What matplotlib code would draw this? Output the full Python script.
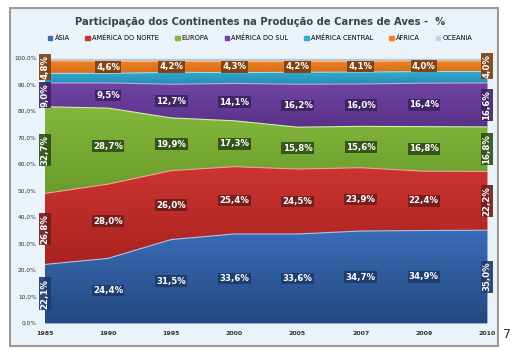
import matplotlib
matplotlib.use('Agg')
import matplotlib.pyplot as plt
from matplotlib.patches import FancyBboxPatch
from matplotlib.colors import LinearSegmentedColormap
import numpy as np

# Dados do gráfico
anos = ["1985", "1990", "1995", "2000", "2005", "2007", "2009", "2010"]
asia = [22.1, 24.4, 31.5, 33.6, 33.6, 34.7, 34.9, 35.0]
america_norte = [26.8, 28.0, 26.0, 25.4, 24.5, 23.9, 22.4, 22.2]
europa = [32.7, 28.7, 19.9, 17.3, 15.8, 15.6, 16.8, 16.8]
america_sul = [9.0, 9.5, 12.7, 14.1, 16.2, 16.0, 16.4, 16.6]
america_central = [3.6, 3.6, 4.5, 4.1, 4.5, 4.5, 4.4, 4.3]
africa = [4.8, 4.6, 4.2, 4.3, 4.2, 4.1, 4.0, 4.0]
oceania = [1.0, 1.2, 1.2, 1.2, 1.2, 1.2, 1.1, 1.1]

# nome, valores, cor topo, cor base, borda, cor do rótulo
series = [
    ("ÁSIA", asia, "#3a6cb8", "#24487f", "#a9c4e8", "#1d3a6b"),
    ("AMÉRICA DO NORTE", america_norte, "#cc3430", "#a92320", "#f0a0a0", "#6e1d1a"),
    ("EUROPA", europa, "#84b83c", "#6a9c2a", "#d4efb0", "#2e4d14"),
    ("AMÉRICA DO SUL", america_sul, "#7044a4", "#5a3288", "#c0a8e0", "#3c2262"),
    ("AMÉRICA CENTRAL", america_central, "#33aad0", "#2590b4", "#9fd8ec", None),
    ("ÁFRICA", africa, "#f08428", "#d86c14", "#f8c090", "#7a3d10"),
    ("OCEANIA", oceania, "#bcd4ec", "#a4c0e0", "#e0ecf8", None),
]

fig = plt.figure(figsize=(5.2, 3.59), dpi=100)
fig.patch.set_facecolor("white")

# moldura do gráfico
frame = FancyBboxPatch((10 / 520, 1 - 346 / 359), 488 / 520, 338 / 359,
                       boxstyle="square,pad=0", transform=fig.transFigure,
                       facecolor="#eaf2fa", edgecolor="#9a9a9a", linewidth=1.5,
                       zorder=-10)
fig.patches.append(frame)

ax = fig.add_axes([45 / 520, 1 - 323 / 359, 442 / 520, 265 / 359])
ax.set_zorder(1)
ax.set_facecolor("#f6f9fd")

x = np.arange(len(anos))
n = len(anos)
grad = np.linspace(0, 1, 64).reshape(-1, 1)
base = np.zeros(n)
for nome, vals, cor, cor_base, borda, cor_lbl in series:
    v = np.array(vals)
    poly = ax.fill_between(x, base, base + v, color=cor, linewidth=0, zorder=2)
    cmap = LinearSegmentedColormap.from_list(nome, [cor_base, cor])
    img = ax.imshow(grad, extent=[0, n - 1, base.min(), (base + v).max()],
                    aspect="auto", origin="lower", cmap=cmap, zorder=2.1,
                    interpolation="bilinear")
    img.set_clip_path(poly.get_paths()[0], transform=ax.transData)
    ax.plot(x, base + v, color=borda, linewidth=0.8, zorder=3)
    if cor_lbl is not None:
        meio = base + v / 2
        for i, val in enumerate(vals):
            txt = f"{val:.1f}%".replace(".", ",")
            rot = 90 if i in (0, n - 1) else 0
            ax.text(x[i], meio[i], txt, ha="center", va="center", rotation=rot,
                    fontsize=6.2, fontweight="bold", color="white", zorder=5,
                    bbox=dict(boxstyle="square,pad=0.15", facecolor=cor_lbl,
                              edgecolor="none", alpha=0.9))
    base = base + v

ax.set_xlim(0, n - 1)
ax.set_ylim(0, 100)
ax.set_xticks(x)
ax.set_xticklabels(anos, fontsize=4.5, fontweight="bold", color="#333333")
ax.set_yticks(np.arange(0, 101, 10))
ax.set_yticklabels([f"{t:.1f}%".replace(".", ",") for t in range(0, 101, 10)],
                   fontsize=4.2, color="#333333")
ax.tick_params(length=0, pad=6)
for s in ax.spines.values():
    s.set_visible(False)

fig.text(0.5, 1 - 22 / 359, "Participação dos Continentes na Produção de Carnes de Aves -  %",
         ha="center", va="center", fontsize=7.2, fontweight="bold", color="#404040")

# legenda
handles = [plt.Rectangle((0, 0), 1, 1, color=s[1 + 1]) for s in series]
labels = [s[0] for s in series]
fig.legend(handles, labels, loc="center", bbox_to_anchor=(0.5, 1 - 38 / 359), ncol=7,
           frameon=False, fontsize=4.8, handlelength=0.7, handleheight=0.7,
           handletextpad=0.3, columnspacing=2.4)

fig.text(507 / 520, 1 - 335 / 359, "7", ha="center", va="center", fontsize=9, color="#333333")

fig.savefig("out.png", dpi=100)
